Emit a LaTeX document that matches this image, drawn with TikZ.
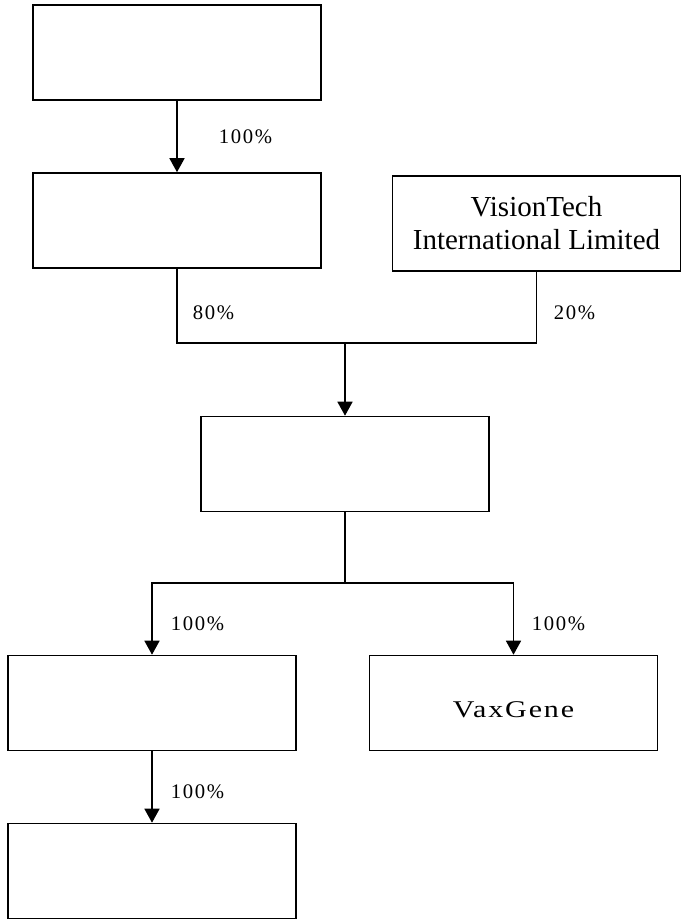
\documentclass[tikz,border=0pt]{standalone}
\usepackage{fontspec}
\setmainfont{Liberation Serif}
\newfontfamily\pctfont{Liberation Serif}[LetterSpace=8]
\newfontfamily\namefont{Liberation Serif}[LetterSpace=8,FakeStretch=1.25]
\usetikzlibrary{arrows.meta}

\begin{document}
\begin{tikzpicture}[x=1pt,y=-1pt,line width=1.6pt,
        box/.style={draw,inner sep=0pt,minimum width=288pt,minimum height=95pt,align=center},
        arr/.style={-{Triangle[width=15pt,length=14pt]}},
        pct/.style={anchor=base west,inner sep=0pt,font=\pctfont\fontsize{20.7}{23}\selectfont}]
        \useasboundingbox (0,0) rectangle (681,921);
        \node[box] (top) at (177,52.5) {};
        \node[box] (left) at (177,220.5) {};
        \node[box,font=\fontsize{29}{33}\selectfont] (vision) at (536.5,223.5) {VisionTech\\International Limited};
        \node[box] (mid) at (345,464) {};
        \node[box] (sub) at (152,703) {};
        \node[box,text height=30pt,font=\namefont\fontsize{24}{28}\selectfont] (vax) at (513.5,703) {VaxGene};
        \node[box] (bottom) at (152,871) {};
        \coordinate (join) at (345,343);
        \coordinate (split) at (345,583);
        \draw[arr] (top) -- (left);
        \draw (left.south) |- (join) -| (vision.south);
        \draw[arr] (join) -- (mid);
        \draw (mid) -- (split);
        \draw[arr] (split) -| (sub);
        \draw[arr] (split) -| (vax);
        \draw[arr] (sub) -- (bottom);
        \node[pct] (p1) at (218,143) {100\%};
        \node[pct] (p2) at (192,319) {80\%};
        \node[pct] (p3) at (553,319) {20\%};
        \node[pct] (p4) at (170,630) {100\%};
        \node[pct] (p5) at (531,630) {100\%};
        \node[pct] (p6) at (170,798) {100\%};
    \end{tikzpicture}
\end{document}
